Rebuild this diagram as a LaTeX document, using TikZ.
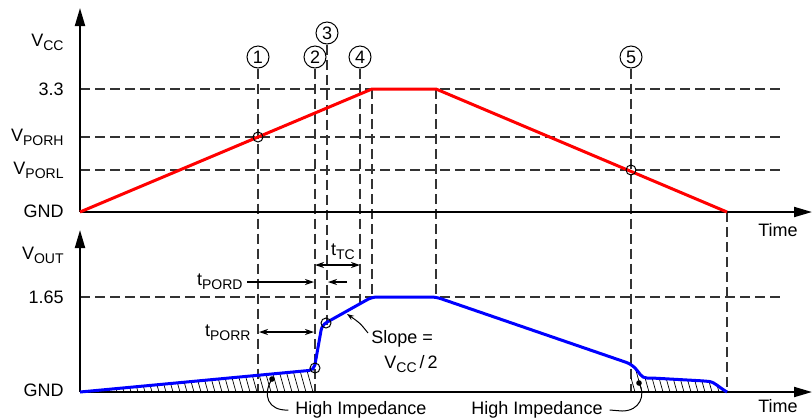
\documentclass[tikz,border=0pt]{standalone}
\usepackage{fontspec}
\setmainfont{Liberation Sans}
\usetikzlibrary{arrows.meta,positioning}
\newcommand{\sbs}[1]{\raisebox{-0.4ex}{\fontsize{7}{8}\selectfont #1}}

\begin{document}
\begin{tikzpicture}[
  x=0.5pt, y=-0.5pt,
  font=\fontsize{9}{11}\selectfont,
  axis/.style={line width=1pt, -{Triangle[length=9pt,width=5pt]}},
  guide/.style={black!80, line width=0.6pt, dash pattern=on 5pt off 2.5pt},
  vcc/.style={red, line width=1.5pt},
  vout/.style={blue, line width=1.5pt, rounded corners=2.5pt},
  dim/.style={line width=0.7pt, {Stealth[length=4.5pt,width=3pt]}-{Stealth[length=4.5pt,width=3pt]}},
  dimr/.style={line width=0.7pt, -{Stealth[length=4.5pt,width=3pt]}},
  num/.style={circle, draw, line width=0.5pt, minimum size=11pt, inner sep=0pt},
  ylbl/.style={anchor=east, inner sep=1pt},
  ring/.style={circle, draw, line width=0.5pt, minimum size=5pt, inner sep=0pt},
  leader/.style={line width=0.5pt},
  hatch/.style={line width=0.35pt}
]
  \useasboundingbox (0,0) rectangle (812,419);

  % axes
  \coordinate (o1) at (80,212);
  \coordinate (o2) at (80,392);
  \coordinate (x1) at (812,212);
  \coordinate (x2) at (812,392);
  \coordinate (y1) at (80,8);
  \coordinate (y2) at (80,230);

  % key points of the curves
  \coordinate (pk1) at (372,89);
  \coordinate (pk2) at (436,89);
  \coordinate (end1) at (727,212);
  \coordinate (b1) at (314,370);
  \coordinate (b2) at (322,325);
  \coordinate (bp1) at (372,297);
  \coordinate (bp2) at (436,297);
  \coordinate (b5) at (631,364);
  \coordinate (end2) at (727,392);
  \coordinate (c4) at (360,303);

  % y labels
  \node[ylbl] (vcc)   at (66,42)  {V\sbs{CC}};
  \node[ylbl] (v33)   at (66,89)  {3.3};
  \node[ylbl] (porh)  at (66,137) {V\sbs{PORH}};
  \node[ylbl] (porl)  at (66,170) {V\sbs{PORL}};
  \node[ylbl] (gnd1)  at (66,211) {GND};
  \node[ylbl] (vout)  at (66,255) {V\sbs{OUT}};
  \node[ylbl] (v165)  at (66,297) {1.65};
  \node[ylbl] (gnd2)  at (66,390) {GND};
  \node (time1) at (778,230) {Time};
  \node (time2) at (778,406) {Time};

  % numbered markers
  \node[num] (m1) at (258,57) {1};
  \node[num] (m2) at (315,57) {2};
  \node[num] (m3) at (327,33) {3};
  \node[num] (m4) at (360,57) {4};
  \node[num] (m5) at (631,57) {5};

  % guides
  \foreach \y in {89,137,170,297}
    \draw[guide] (80,\y) -- (783,\y);
  \draw[guide] (m1.south) -- (m1.south |- o2);
  \draw[guide] (m2.south) -- (m2.south |- o2);
  \draw[guide] (m3.south) -- (m3.south |- b2);
  \draw[guide] (m4.south) -- (c4);
  \draw[guide] (pk1) -- (bp1);
  \draw[guide] (pk2) -- (bp2);
  \draw[guide] (m5.south) -- (m5.south |- o2);
  \draw[guide] (end1) -- (end2);

  % high impedance hatching
  \begin{scope}
    \clip (81,392) -- (b1) -- (315,392) -- cycle;
    \foreach \x in {80,87,...,320}
      \draw[hatch] (\x,360) -- ++(9,32);
  \end{scope}
  \begin{scope}
    \clip (b5) .. controls (640,373) and (641,378) .. (652,378) -- (705,381)
          .. controls (714,382) and (720,388) .. (end2) -- (631,392) -- cycle;
    \foreach \x in {626,633,...,730}
      \draw[hatch] (\x,360) -- ++(9,32);
  \end{scope}

  % axes
  \draw[axis] (o1) -- (x1);
  \draw[axis] (o1) -- (y1);
  \draw[axis] (o2) -- (x2);
  \draw[axis] (o2) -- (y2);

  % VCC and VOUT
  \draw[vcc] (o1) -- (pk1) -- (pk2) -- (end1);
  \draw[vout] (o2) -- (b1) -- (b2) -- (bp1) -- (bp2) -- (b5)
    .. controls (640,373) and (641,378) .. (652,378) -- (705,381)
    .. controls (714,382) and (720,388) .. (end2);

  % threshold rings
  \node[ring] (r1) at (258,137) {};
  \node[ring] (r2) at (631,170) {};
  \node[ring] (r3) at (315,368) {};
  \node[ring] (r4) at (326,323) {};

  % timing
  \node (ttc) at (343,252) {t\sbs{TC}};
  \draw[dim] (315,265) -- (360,265);
  \node[anchor=east, inner sep=1pt] (tpord) at (245,282) {t\sbs{PORD}};
  \draw[dimr] (tpord.east) ++(2,0) -- (314,282);
  \draw[dimr] (347,282) -- (328,282);
  \node[anchor=east, inner sep=1pt] (tporr) at (253,333) {t\sbs{PORR}};
  \draw[dim] (259,332) -- (314,332);

  % slope
  \node[anchor=west, inner sep=1pt] (slope) at (369,339) {Slope =};
  \node[anchor=west, inner sep=1pt] (slopev) at (382,364) {V\sbs{CC}\,/\,2};
  \coordinate (sl) at (347,314);
  \draw[leader, -{Stealth[length=3.5pt,width=2.5pt]}] (368,333) .. controls (360,323) .. (sl);

  % high impedance labels
  \node (hz1) at (361,410) {High Impedance};
  \node (hz2) at (537,410) {High Impedance};
  \fill (272,379) circle (1.4pt) coordinate (d1);
  \fill (639,383) circle (1.4pt) coordinate (d2);
  \draw[leader] (d1) .. controls (262,395) and (268,411) .. (hz1.west);
  \draw[leader] (hz2.east) -- (622,411) .. controls (640,411) and (646,395) .. (d2);
\end{tikzpicture}
\end{document}
